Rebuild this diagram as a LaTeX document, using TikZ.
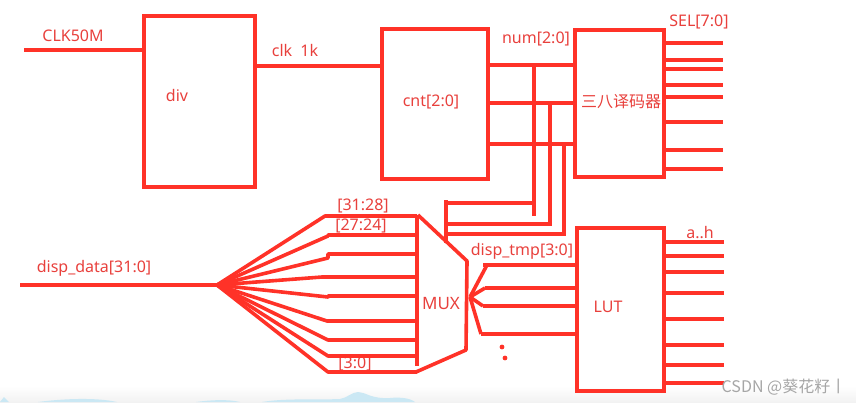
\documentclass[tikz,border=0pt]{standalone}
\usepackage{fontspec}
\setmainfont{Noto Sans}
\newfontfamily\cjkfont{Noto Sans CJK SC}
\definecolor{penred}{HTML}{FF3228}
\definecolor{labelred}{HTML}{E8403C}
\definecolor{hillblue}{HTML}{CBE8F4}
\tikzset{
    wire/.style={penred, line width=3.6pt},
    busbox/.style={draw=penred, line width=4pt, rectangle, inner sep=0pt, outer sep=0pt},
    lbl/.style={text=labelred, inner sep=0pt, font=\fontsize{16}{18}\selectfont}
}
\begin{document}
\begin{tikzpicture}[x=1pt, y=-1pt]
    \useasboundingbox (0,0) rectangle (856,402);

    % Bottom edge of the screenshot
    \shade[top color=white, bottom color=black!5] (0,386) rectangle (856,402);
    \fill[hillblue] (0,402) -- (4,397) -- (9,402) -- cycle;
    \fill[hillblue] (38,402) .. controls (60,399) and (95,397) .. (117,402) -- cycle;
    \fill[hillblue] (196,402) .. controls (210,400) and (228,399) .. (240,402) -- cycle;
    \fill[hillblue] (262,402) .. controls (285,398) and (320,400) .. (340,399) .. controls (347,398) and (352,392) .. (358,392) .. controls (366,392) and (370,399) .. (390,398) .. controls (400,397) and (410,398) .. (415,402) -- cycle;

    % Blocks
    \node[busbox, minimum width=111pt, minimum height=171pt] (div) at (199.5,101.5) {};
    \node[busbox, minimum width=106pt, minimum height=150pt] (cnt) at (435,104) {};
    \node[busbox, minimum width=89pt, minimum height=147pt] (dec) at (619.5,103.5) {};
    \node[busbox, minimum width=87pt, minimum height=163pt] (lut) at (620.5,309.5) {};

    % Block labels
    \node[lbl] (divlbl) at (177,95) {div};
    \node[lbl] (cntlbl) at (431,102) {cnt[2:0]};
    \node[lbl, font=\fontsize{16}{18}\cjkfont] (declbl) at (621,102) {三八译码器};
    \node[lbl] (lutlbl) at (608,307) {LUT};
    \node[lbl, font=\fontsize{17}{18}\selectfont] (muxlbl) at (441,304) {MUX};

    % Signal labels
    \node[lbl] (clklbl) at (73,36) {CLK50M};
    \node[lbl] (khzlbl) at (295,50) {clk\ \ 1k};
    \node[lbl] (numlbl) at (536,39) {num[2:0]};
    \node[lbl] (sellbl) at (699,22) {SEL[7:0]};
    \node[lbl] (datalbl) at (94,268) {disp\_data[31:0]};
    \node[lbl] (toplbl) at (363,206) {[31:28]};
    \node[lbl] (nextlbl) at (361,226) {[27:24]};
    \node[lbl] (lowlbl) at (355,364) {[3:0]};
    \node[lbl] (tmplbl) at (522,251) {disp\_tmp[3:0]};
    \node[lbl] (seglbl) at (700,233) {a..h};

    % Clock path
    \coordinate (clkin) at (24,50);
    \draw[wire] (clkin) -- (clkin -| div.west);
    \coordinate (clkout) at (div.east |- 0,66);
    \draw[wire] (clkout) -- (clkout -| cnt.west);

    % Counter to decoder, tapped down to the mux select
    \foreach \y/\n in {65/a, 103/b, 144/c} {
        \coordinate (num\n) at (cnt.east |- 0,\y);
        \draw[wire] (num\n) -- (num\n -| dec.west);
    }
    \coordinate (sela) at (446,203);
    \coordinate (selb) at (446,224);
    \coordinate (selc) at (446,234);
    \draw[wire] (534,65) -- (534,216);
    \draw[wire] (550,103) -- (550,224) -- (selb);
    \draw[wire] (564,144) -- (564,234) -- (selc);
    \draw[wire] (534,203) -- (sela);
    \draw[wire] (446,200) -- (446,243);

    % Decoder outputs
    \foreach \y [count=\i] in {43,60,69,85,97,122,150,169} {
        \coordinate (sel\i) at (723,\y);
        \draw[wire] (sel\i -| dec.east) -- (sel\i);
    }

    % Mux body
    \coordinate (muxa) at (418,215);
    \coordinate (muxb) at (467,261);
    \coordinate (muxc) at (466,350);
    \coordinate (muxd) at (416,372);
    \draw[wire, line join=round] (muxa) -- (muxb) -- (muxc) -- (muxd);
    \draw[wire] (417,215) -- (417,366);

    % Data fan into the mux
    \coordinate (fan) at (217,285);
    \coordinate (datain) at (20,285);
    \draw[wire] (datain) -- (fan);
    \foreach \kx/\ky/\ey [count=\i] in {325/216/216, 328/236/235, 328/258/254, 322/277/277, 328/297/296, 327/321/321, 328/340/340, 328/356/356, 328/372/372} {
        \coordinate (knee\i) at (\kx,\ky);
        \coordinate (muxin\i) at (417,\ey);
        \draw[wire, line join=round] (fan) -- (knee\i) -- (\kx,\ey) -- (muxin\i);
    }

    % Lookup table inputs
    \coordinate (muxout) at (470,297);
    \foreach \kx/\ky/\sx [count=\i] in {487/265/483, 485/288/485, 483/306/483, 481/334/481} {
        \coordinate (tmp\i) at (\kx,\ky);
        \draw[wire, line join=round] (muxout) -- (tmp\i);
        \draw[wire] (\sx,\ky) -- (lut.west |- tmp\i);
    }
    \fill[penred] (502,347) circle (2.4pt);
    \fill[penred] (505,358) circle (2.4pt);

    % Lookup table outputs
    \foreach \y [count=\i] in {242,256,272,293,319,345,365,383} {
        \coordinate (seg\i) at (724,\y);
        \draw[wire] (seg\i -| lut.east) -- (seg\i);
    }

    % Watermark
    \node[text=black!35, inner sep=0pt, font=\fontsize{16}{18}\cjkfont] (mark) at (784,387) {CSDN @葵花籽丨};
\end{tikzpicture}
\end{document}
